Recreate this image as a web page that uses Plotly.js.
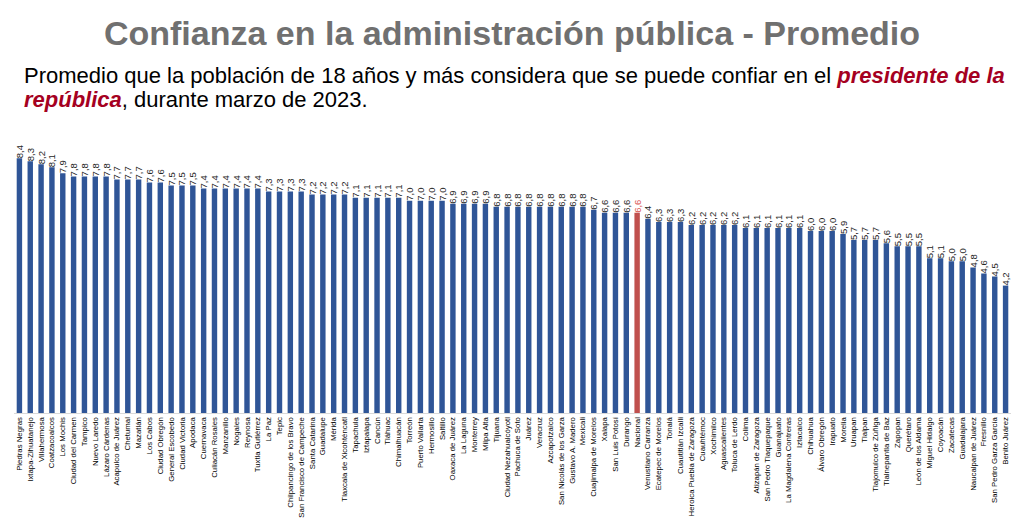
<!DOCTYPE html>
<html>
<head>
<meta charset="utf-8">
<script src="https://cdn.plot.ly/plotly-3.0.1.min.js"></script>
<style>html,body{margin:0;padding:0;background:#fff;}#chart{width:1024px;height:519px;}</style>
</head>
<body>
<div id="chart"></div>
<script>
const ciudades = ["Piedras Negras","Ixtapa-Zihuatanejo","Villahermosa","Coatzacoalcos","Los Mochis","Ciudad del Carmen","Tampico","Nuevo Laredo","Lázaro Cárdenas","Acapulco de Juárez","Chetumal","Mazatlán","Los Cabos","Ciudad Obregón","General Escobedo","Ciudad Victoria","Apodaca","Cuernavaca","Culiacán Rosales","Manzanillo","Nogales","Reynosa","Tuxtla Gutiérrez","La Paz","Tepic","Chilpancingo de los Bravo","San Francisco de Campeche","Santa Catarina","Guadalupe","Mérida","Tlaxcala de Xicohténcatl","Tapachula","Iztapalapa","Cancún","Tláhuac","Chimalhuacán","Torreón","Puerto Vallarta","Hermosillo","Saltillo","Oaxaca de Juárez","La Laguna","Monterrey","Milpa Alta","Tijuana","Ciudad Nezahualcóyotl","Pachuca de Soto","Juárez","Veracruz","Azcapotzalco","San Nicolás de los Garza","Gustavo A. Madero","Mexicali","Cuajimalpa de Morelos","Xalapa","San Luis Potosí","Durango","Nacional","Venustiano Carranza","Ecatepec de Morelos","Tonalá","Cuautitlán Izcalli","Heroica Puebla de Zaragoza","Cuauhtémoc","Xochimilco","Aguascalientes","Toluca de Lerdo","Colima","Atizapán de Zaragoza","San Pedro Tlaquepaque","Guanajuato","La Magdalena Contreras","Iztacalco","Chihuahua","Álvaro Obregón","Irapuato","Morelia","Uruapan","Tlalpan","Tlajomulco de Zúñiga","Tlalnepantla de Baz","Zapopan","Querétaro","León de los Aldama","Miguel Hidalgo","Coyoacán","Zacatecas","Guadalajara","Naucalpan de Juárez","Fresnillo","San Pedro Garza García","Benito Juárez"];
const promedio = [8.4,8.3,8.2,8.1,7.9,7.8,7.8,7.8,7.8,7.7,7.7,7.7,7.6,7.6,7.5,7.5,7.5,7.4,7.4,7.4,7.4,7.4,7.4,7.3,7.3,7.3,7.3,7.2,7.2,7.2,7.2,7.1,7.1,7.1,7.1,7.1,7.0,7.0,7.0,7.0,6.9,6.9,6.9,6.9,6.8,6.8,6.8,6.8,6.8,6.8,6.8,6.8,6.8,6.7,6.6,6.6,6.6,6.6,6.4,6.3,6.3,6.3,6.2,6.2,6.2,6.2,6.2,6.1,6.1,6.1,6.1,6.1,6.1,6.0,6.0,6.0,5.9,5.7,5.7,5.7,5.6,5.5,5.5,5.5,5.1,5.1,5.0,5.0,4.8,4.6,4.5,4.2];
const destacado = "Nacional";

const azul = "#2F5597", rojo = "#C0504D";
const colores = ciudades.map(c => c === destacado ? rojo : azul);
const colTexto = ciudades.map(c => c === destacado ? "#D9534F" : "#262626");

const trace = {
  type: "bar",
  x: ciudades,
  y: promedio,
  marker: {color: colores},
  texttemplate: "%{y:.1f}",
  textposition: "outside",
  textangle: -90,
  cliponaxis: false,
  constraintext: "none",
  textfont: {family: "Liberation Sans, Arial", size: 9.5, color: colTexto},
  hoverinfo: "x+y"
};

const layout = {
  width: 1024, height: 519,
  margin: {l: 14, r: 13, t: 140, b: 106},
  paper_bgcolor: "#fff", plot_bgcolor: "#fff",
  separators: ",.",
  bargap: 0.5,
  showlegend: false,
  title: {
    text: "<b>Confianza en la administración pública - Promedio</b>",
    font: {family: "Liberation Sans, Arial", size: 34, color: "#707070"},
    x: 0.5, xanchor: "center", y: 0.936, yanchor: "middle", yref: "container"
  },
  xaxis: {
    type: "category",
    tickangle: -90,
    tickfont: {family: "Liberation Sans Narrow, Liberation Sans, Arial", size: 7.8, color: "#000"},
    showline: true, linecolor: "#D9D9D9", linewidth: 1,
    ticks: "", showgrid: false, automargin: false
  },
  yaxis: {
    range: [0, 9], visible: false, showgrid: false, zeroline: false
  },
  annotations: [{
    xref: "paper", yref: "paper",
    x: 0.008, y: 1.238, xanchor: "left", yanchor: "middle",
    align: "left", showarrow: false,
    text: "Promedio que la población de 18 años y más considera que se puede confiar en el <b><i><span style='color:#A50021'>presidente de la</span></i></b>",
    font: {family: "Liberation Sans, Arial", size: 22, color: "#000"}
  }, {
    xref: "paper", yref: "paper",
    x: 0.008, y: 1.150, xanchor: "left", yanchor: "middle",
    align: "left", showarrow: false,
    text: "<b><i><span style='color:#A50021'>república</span></i></b>, durante marzo de 2023.",
    font: {family: "Liberation Sans, Arial", size: 22, color: "#000"}
  }]
};

Plotly.newPlot("chart", [trace], layout, {displayModeBar: false, responsive: false});
</script>
</body>
</html>
